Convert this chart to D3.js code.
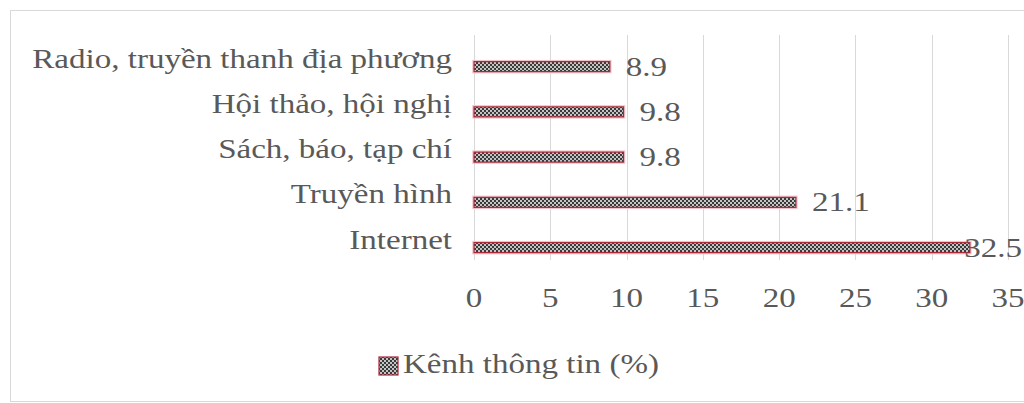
<!DOCTYPE html>
<html><head><meta charset="utf-8">
<script src="https://cdn.jsdelivr.net/npm/d3@7"></script>
<style>html,body{margin:0;padding:0;background:#fff;}svg{display:block;}</style>
</head><body>
<svg id="c" width="1024" height="403"></svg>
<script>
const categories = ["Radio, truyền thanh địa phương", "Hội thảo, hội nghị", "Sách, báo, tạp chí", "Truyền hình", "Internet"];
const values = [8.9, 9.8, 9.8, 21.1, 32.5];
const xTicks = [0, 5, 10, 15, 20, 25, 30, 35];
const seriesName = "Kênh thông tin (%)";

const W = 1024, H = 403;
const SX = 1.18;           // horizontal stretch of the text in the picture
const FONT = "'Liberation Serif','Times New Roman',serif";
const TXT = "#595959";

const svg = d3.select("#c");
const defs = svg.append("defs");
const pat = defs.append("pattern").attr("id","chk").attr("patternUnits","userSpaceOnUse")
  .attr("width",4).attr("height",4);
pat.append("rect").attr("width",4).attr("height",4).attr("fill","#3a3a3a");
pat.append("rect").attr("x",0).attr("y",0).attr("width",2).attr("height",2).attr("fill","#c4c4c4");
pat.append("rect").attr("x",2).attr("y",2).attr("width",2).attr("height",2).attr("fill","#c4c4c4");

// outer chart border
svg.append("rect").attr("x",10.5).attr("y",10.5).attr("width",W+20).attr("height",H-12)
  .attr("fill","none").attr("stroke","#d9d9d9").attr("stroke-width",1);

const x = d3.scaleLinear().domain([0,35]).range([474,1008]);
const y = d3.scaleBand().domain(categories).range([44,270.25]).padding(0);
const barH = 10;

// gridlines
svg.append("g").selectAll("line").data(xTicks).join("line")
  .attr("x1",d=>Math.round(x(d))+0.5).attr("x2",d=>Math.round(x(d))+0.5)
  .attr("y1",35).attr("y2",260)
  .attr("stroke","#d9d9d9").attr("stroke-width",1);

function stext(sel, fx, fy){
  return sel.attr("transform",(d,i)=>`translate(${fx(d,i)},${fy(d,i)}) scale(${SX},1)`);
}

// x tick labels
stext(svg.append("g").selectAll("text").data(xTicks).join("text"),
  d=>x(d), ()=>307)
  .attr("text-anchor","middle").attr("font-family",FONT).attr("font-size",28)
  .attr("fill",TXT).text(d=>d);

// category labels
stext(svg.append("g").selectAll("text").data(categories).join("text"),
  d=>452, d=>y(d)+y.bandwidth()/2+1)
  .attr("text-anchor","end").attr("font-family",FONT).attr("font-size",28)
  .attr("fill",TXT).text(d=>d);

// bars
const data = categories.map((c,i)=>({c, v: values[i]}));
const bars = svg.append("g");
bars.selectAll("rect.glow").data(data).join("rect").attr("class","glow")
  .attr("x",x(0)-1).attr("y",d=>y(d.c)+y.bandwidth()/2-barH/2-1)
  .attr("width",d=>x(d.v)-x(0)+2).attr("height",barH+2)
  .attr("fill","none").attr("stroke","#f3c3cb").attr("stroke-width",1.5);
bars.selectAll("rect.bar").data(data).join("rect").attr("class","bar")
  .attr("x",x(0)).attr("y",d=>y(d.c)+y.bandwidth()/2-barH/2)
  .attr("width",d=>x(d.v)-x(0)).attr("height",barH)
  .attr("fill","url(#chk)").attr("stroke","#a8283a").attr("stroke-width",1.2);

// value labels
const vl = svg.append("g").selectAll("text").data(data).join("text")
  .attr("font-family",FONT).attr("font-size",28).attr("fill",TXT)
  .attr("text-anchor","start").text(d=>d.v.toFixed(1));
vl.each(function(d){
  const w = this.getComputedTextLength()*SX;
  let lx = x(d.v)+16;
  if (lx + w > 1022) lx = 1022 - w;
  d3.select(this).attr("transform",`translate(${lx},${y(d.c)+y.bandwidth()/2+9}) scale(${SX},1)`);
});

// legend
const lg = svg.append("g");
lg.append("rect").attr("x",379).attr("y",357).attr("width",19).attr("height",18)
  .attr("fill","url(#chk)").attr("stroke","#a8283a").attr("stroke-width",1.2);
lg.append("text").attr("transform",`translate(403,373) scale(${SX},1)`)
  .attr("font-family",FONT).attr("font-size",28).attr("fill",TXT).text(seriesName);
</script>
</body></html>
